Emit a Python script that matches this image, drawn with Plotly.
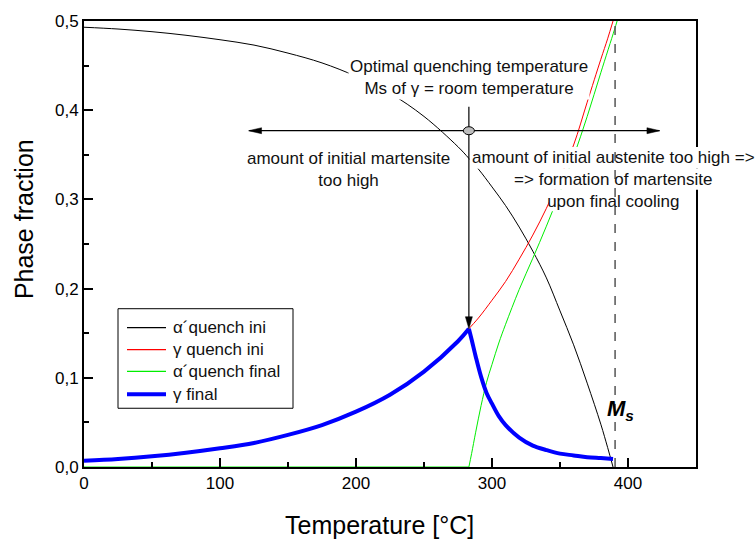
import plotly.graph_objects as go

# Quench temperature grid for the initial-quench curves [°C]
temp_ini = [0, 25, 50, 75, 100, 125, 150, 175, 200, 225, 250, 275, 283,
            290, 300, 310, 320, 330, 340, 350, 360, 370, 380, 385, 389]
alpha_quench_ini = [0.493, 0.491, 0.488, 0.484, 0.479, 0.473, 0.464, 0.453,
                    0.438, 0.419, 0.393, 0.359, 0.346, 0.334, 0.314, 0.293,
                    0.269, 0.242, 0.212, 0.175, 0.137, 0.094, 0.048, 0.022,
                    0.000]
gamma_quench_ini = [0.007, 0.009, 0.012, 0.016, 0.021, 0.027, 0.036, 0.047,
                    0.062, 0.081, 0.107, 0.141, 0.155, 0.167, 0.187, 0.208,
                    0.233, 0.260, 0.290, 0.324, 0.361, 0.409, 0.457, 0.480,
                    0.500]

# Martensite formed on final cooling
temp_alpha_final = [0, 283, 285, 288, 292, 296, 300, 305, 310, 320, 330,
                    340, 350, 360, 370, 380, 390, 392]
alpha_quench_final = [0.000, 0.000, 0.015, 0.039, 0.069, 0.095, 0.115,
                      0.139, 0.160, 0.199, 0.234, 0.270, 0.308, 0.348,
                      0.393, 0.442, 0.490, 0.500]

# Retained austenite after final cooling
temp_final = [0, 25, 50, 75, 100, 125, 150, 175, 200, 225, 250, 275, 283,
              285, 288, 292, 296, 300, 305, 310, 320, 330, 340, 350, 360,
              370, 380, 389]
gamma_final = [0.007, 0.009, 0.012, 0.016, 0.021, 0.027, 0.036, 0.047,
               0.062, 0.081, 0.107, 0.141, 0.155, 0.143, 0.124, 0.101,
               0.083, 0.071, 0.057, 0.047, 0.033, 0.024, 0.019, 0.015,
               0.013, 0.011, 0.010, 0.009]

legend_labels = ["α´quench ini", "γ quench ini", "α´quench final", "γ final"]
legend_colors = ["black", "#ff0000", "#00ee00", "#0000ff"]
legend_widths = [1.2, 1.2, 1.2, 4]

# Reference temperatures and guide positions
ms_temp = 390.5
t_opt = 283
arrow_level = 0.377
arrow_left, arrow_right = 121, 423.5
vline_top = 0.404

FONT = "Liberation Sans, Arial, sans-serif"
TEXT = "#111111"

# split index where the γ final / α´ final branches change slope
i_peak = temp_final.index(t_opt)
i_start = temp_alpha_final.index(t_opt)
peak_gamma = gamma_final[i_peak]

fig = go.Figure()
fig.add_trace(go.Scatter(x=temp_ini, y=alpha_quench_ini, mode="lines",
                         name=legend_labels[0], line_shape="spline",
                         line=dict(color=legend_colors[0], width=1)))
fig.add_trace(go.Scatter(x=temp_ini, y=gamma_quench_ini, mode="lines",
                         name=legend_labels[1], line_shape="spline",
                         line=dict(color=legend_colors[1], width=1)))
fig.add_trace(go.Scatter(x=temp_alpha_final[:i_start + 1],
                         y=alpha_quench_final[:i_start + 1], mode="lines",
                         name=legend_labels[2],
                         line=dict(color=legend_colors[2], width=1)))
fig.add_trace(go.Scatter(x=temp_alpha_final[i_start:],
                         y=alpha_quench_final[i_start:], mode="lines",
                         name=legend_labels[2], line_shape="spline",
                         line=dict(color=legend_colors[2], width=1)))
fig.add_trace(go.Scatter(x=temp_final[:i_peak + 1],
                         y=gamma_final[:i_peak + 1], mode="lines",
                         name=legend_labels[3], line_shape="spline",
                         line=dict(color=legend_colors[3], width=4)))
fig.add_trace(go.Scatter(x=temp_final[i_peak:], y=gamma_final[i_peak:],
                         mode="lines", name=legend_labels[3],
                         line_shape="spline",
                         line=dict(color=legend_colors[3], width=4)))


def px_x(p):
    """Horizontal pixel position -> paper fraction."""
    return (p - 84) / 612


def px_y(p):
    """Vertical pixel position -> paper fraction."""
    return (467 - p) / 448


def arrowhead(x, y, path):
    """Filled arrowhead, path given in pixels relative to the tip."""
    return dict(type="path", xref="x", yref="y", xsizemode="pixel",
                ysizemode="pixel", xanchor=x, yanchor=y, path=path,
                fillcolor="black", line=dict(color="black", width=0.5),
                layer="above")


shapes = []
# white backing behind each line of the right-hand text block
for (x0, x1, y0, y1) in [(469.5, 760, 145.5, 167.5),
                         (512, 716, 167.5, 188.5),
                         (549, 688, 188.5, 210)]:
    shapes.append(dict(type="rect", xref="paper", yref="paper",
                       x0=px_x(x0), x1=px_x(x1), y0=px_y(y1), y1=px_y(y0),
                       fillcolor="white", line=dict(width=0), layer="above"))
shapes += [
    # horizontal double arrow shaft
    dict(type="line", xref="x", yref="y", x0=arrow_left + 0.5,
         x1=arrow_right - 0.5, y0=arrow_level, y1=arrow_level,
         line=dict(color="black", width=1.2), layer="above"),
    # vertical arrow shaft down to the γ final maximum
    dict(type="line", xref="x", yref="y", x0=t_opt, x1=t_opt,
         y0=vline_top, y1=peak_gamma + 0.01,
         line=dict(color="black", width=1.2), layer="above"),
    arrowhead(arrow_left, arrow_level, "M0,0 L13,3 L13,-3 Z"),
    arrowhead(arrow_right, arrow_level, "M0,0 L-13,3 L-13,-3 Z"),
    arrowhead(t_opt, peak_gamma, "M0,0 L3.5,12 L-3.5,12 Z"),
    # marker at the optimal quench temperature
    dict(type="circle", xref="x", yref="y", xsizemode="pixel",
         ysizemode="pixel", xanchor=t_opt, yanchor=arrow_level,
         x0=-5.5, x1=5.5, y0=-4, y1=4,
         fillcolor="#bdbdbd", line=dict(color="black", width=1),
         layer="above"),
    # Ms line
    dict(type="line", xref="x", yref="paper", x0=ms_temp, x1=ms_temp,
         y0=0, y1=1, line=dict(color="#555555", width=1.5, dash="dash"),
         layer="above"),
    # legend frame
    dict(type="rect", xref="paper", yref="paper",
         x0=px_x(118), x1=px_x(293), y0=px_y(408), y1=px_y(308),
         fillcolor="white", line=dict(color="black", width=1),
         layer="above"),
]

annotations = [
    dict(x=t_opt, y=0.437, xref="x", yref="y", showarrow=False,
         text="Optimal quenching temperature<br>Ms of γ = room temperature",
         font=dict(size=17, color=TEXT), bgcolor="white", borderpad=1,
         align="center"),
    dict(x=194.7, y=0.3335, xref="x", yref="y", showarrow=False,
         text="amount of initial martensite<br>too high",
         font=dict(size=17, color=TEXT), align="center"),
    dict(x=389.6, y=0.3225, xref="x", yref="y", showarrow=False,
         text="amount of initial austenite too high =><br>"
              "=> formation of martensite<br>upon final cooling",
         font=dict(size=17, color=TEXT), align="center"),
    dict(x=394.5, y=0.064, xref="x", yref="y", showarrow=False,
         text="<b><i>M<sub>s</sub></i></b>",
         font=dict(size=22, color="black")),
    dict(x=px_x(24), y=px_y(218), xref="paper", yref="paper",
         xanchor="center", yanchor="middle", showarrow=False,
         text="Phase fraction", textangle=-90,
         font=dict(size=25, color="black")),
    dict(x=px_x(379), y=px_y(525), xref="paper", yref="paper",
         xanchor="center", yanchor="middle", showarrow=False,
         text="Temperature [°C]", font=dict(size=25, color="black")),
]

# legend entries: line sample + label
for row_y, label, color, width in zip([327, 349, 371, 394], legend_labels,
                                      legend_colors, legend_widths):
    shapes.append(dict(type="line", xref="paper", yref="paper",
                       x0=px_x(127), x1=px_x(166), y0=px_y(row_y),
                       y1=px_y(row_y), line=dict(color=color, width=width),
                       layer="above"))
    annotations.append(dict(x=px_x(171), y=px_y(row_y), xref="paper",
                            yref="paper", xanchor="left", yanchor="middle",
                            showarrow=False, text=label,
                            font=dict(size=17, color=TEXT)))

axis_common = dict(
    showline=True, linecolor="black", linewidth=2, mirror=True,
    showgrid=False, zeroline=False, ticks="inside", ticklen=9,
    tickwidth=1.5, tickcolor="black",
    tickfont=dict(size=17, color="black", family=FONT),
)

fig.update_xaxes(range=[0, 450], tick0=0, dtick=100,
                 minor=dict(dtick=50, ticks="inside", ticklen=5,
                            tickwidth=1.5, tickcolor="black"),
                 **axis_common)
fig.update_yaxes(range=[0, 0.5], tick0=0, dtick=0.1, tickformat=".1f",
                 minor=dict(dtick=0.05, ticks="inside", ticklen=5,
                            tickwidth=1.5, tickcolor="black"),
                 **axis_common)

fig.update_layout(
    width=755, height=540,
    margin=dict(l=84, r=59, t=19, b=73),
    paper_bgcolor="white", plot_bgcolor="white",
    separators=",.",
    font=dict(family=FONT, color="black"),
    showlegend=False,
    shapes=shapes,
    annotations=annotations,
)

fig.write_html("out.html")
